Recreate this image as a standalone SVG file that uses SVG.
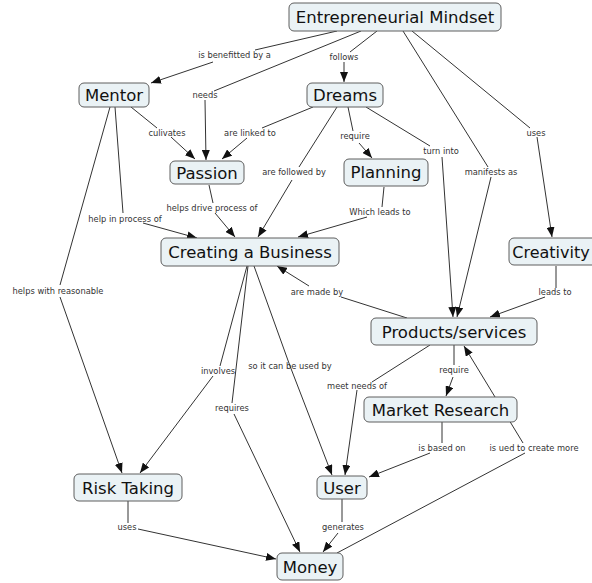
<svg xmlns="http://www.w3.org/2000/svg" width="592" height="583" viewBox="0 0 592 583">
<defs>
<marker id="arr" markerUnits="userSpaceOnUse" markerWidth="10" markerHeight="8" refX="10" refY="4" orient="auto">
<path d="M0,0 L10,4 L0,8 z" fill="#111"/>
</marker>
<style>
.c line{stroke:#333;stroke-width:1;fill:none}
.c line.a{marker-end:url(#arr)}
.n rect{fill:#eaf2f5;stroke:#5e5e5e;stroke-width:1}
.n text{font-family:"DejaVu Sans",Verdana,sans-serif;font-size:16.5px;fill:#111;text-anchor:middle}
.l text{font-family:"DejaVu Sans",Verdana,sans-serif;font-size:8.3px;fill:#333;text-anchor:middle}
</style>
</defs>
<rect width="592" height="583" fill="#fff"/>
<g id="connectors" class="c">
<line x1="337" y1="31" x2="255" y2="50"/>
<line x1="361" y1="31" x2="214" y2="91"/>
<line x1="377" y1="31" x2="350" y2="52"/>
<line x1="403" y1="31" x2="488" y2="167"/>
<line x1="412" y1="31" x2="530" y2="128"/>
<line x1="131" y1="107" x2="157" y2="128"/>
<line x1="115" y1="107" x2="123" y2="213"/>
<line x1="110" y1="107" x2="60" y2="285"/>
<line x1="313" y1="107" x2="262" y2="128"/>
<line x1="337" y1="107" x2="299" y2="167"/>
<line x1="348" y1="107" x2="353" y2="131"/>
<line x1="366" y1="107" x2="430" y2="146"/>
<line x1="209" y1="185" x2="213" y2="203"/>
<line x1="384" y1="187" x2="382" y2="207"/>
<line x1="556" y1="266" x2="556" y2="288"/>
<line x1="407" y1="318" x2="341" y2="297"/>
<line x1="430" y1="345" x2="372" y2="382"/>
<line x1="454" y1="345" x2="454" y2="365"/>
<line x1="442" y1="422" x2="442" y2="443"/>
<line x1="247" y1="266" x2="220" y2="366"/>
<line x1="248" y1="266" x2="232" y2="403"/>
<line x1="254" y1="266" x2="290" y2="366"/>
<line x1="128" y1="501" x2="128" y2="523"/>
<line x1="342" y1="499" x2="342" y2="522"/>
<line x1="337" y1="553" x2="525" y2="453"/>
<line class="a" x1="213" y1="62" x2="151" y2="83"/>
<line class="a" x1="205" y1="100" x2="206" y2="160"/>
<line class="a" x1="344" y1="62" x2="344" y2="82"/>
<line class="a" x1="491" y1="177" x2="457" y2="317"/>
<line class="a" x1="537" y1="137" x2="552" y2="237"/>
<line class="a" x1="171" y1="137" x2="195" y2="159"/>
<line class="a" x1="143" y1="223" x2="197" y2="238"/>
<line class="a" x1="60" y1="297" x2="122" y2="473"/>
<line class="a" x1="247" y1="138" x2="222" y2="159"/>
<line class="a" x1="292" y1="180" x2="258" y2="237"/>
<line class="a" x1="359" y1="143" x2="372" y2="158"/>
<line class="a" x1="442" y1="157" x2="453" y2="317"/>
<line class="a" x1="215" y1="213" x2="235" y2="237"/>
<line class="a" x1="367" y1="217" x2="298" y2="237"/>
<line class="a" x1="545" y1="297" x2="490" y2="317"/>
<line class="a" x1="309" y1="286" x2="277" y2="266"/>
<line class="a" x1="357" y1="390" x2="345" y2="475"/>
<line class="a" x1="453" y1="377" x2="446" y2="396"/>
<line class="a" x1="430" y1="453" x2="369" y2="477"/>
<line class="a" x1="213" y1="376" x2="140" y2="473"/>
<line class="a" x1="234" y1="414" x2="300" y2="552"/>
<line class="a" x1="290" y1="366" x2="332" y2="475"/>
<line class="a" x1="138" y1="529" x2="276" y2="559"/>
<line class="a" x1="338" y1="533" x2="323" y2="552"/>
<line class="a" x1="523" y1="443" x2="464" y2="346"/>
</g>
<g class="n">
<g id="entrepreneurial-mindset"><rect x="289" y="3" width="212" height="28" rx="5"/><text x="395" y="23">Entrepreneurial Mindset</text></g>
<g id="mentor"><rect x="79" y="83" width="70" height="24" rx="5"/><text x="114" y="101">Mentor</text></g>
<g id="dreams"><rect x="307" y="83" width="76" height="24" rx="5"/><text x="345" y="101">Dreams</text></g>
<g id="passion"><rect x="170" y="161" width="74" height="23" rx="5"/><text x="207" y="178.5">Passion</text></g>
<g id="planning"><rect x="344" y="159" width="84" height="27" rx="5"/><text x="386" y="178">Planning</text></g>
<g id="creating-a-business"><rect x="161" y="238" width="178" height="28" rx="5"/><text x="250" y="258">Creating a Business</text></g>
<g id="creativity"><rect x="509" y="238" width="95" height="27" rx="5"/><text x="551" y="257.5" style="font-size:16px">Creativity</text></g>
<g id="products-services"><rect x="371" y="318" width="166" height="27" rx="5"/><text x="454" y="337.5">Products/services</text></g>
<g id="market-research"><rect x="364" y="397" width="153" height="25" rx="5"/><text x="440.5" y="415.5">Market Research</text></g>
<g id="user"><rect x="317" y="476" width="50" height="23" rx="5"/><text x="342" y="493.5">User</text></g>
<g id="risk-taking"><rect x="74" y="474" width="108" height="27" rx="5"/><text x="128" y="493.5">Risk Taking</text></g>
<g id="money"><rect x="277" y="553" width="66" height="27" rx="5"/><text x="310" y="572.5">Money</text></g>
</g>
<g id="labels" class="l">
<text x="234.5" y="58">is benefitted by a</text>
<text x="205" y="98">needs</text>
<text x="344" y="60">follows</text>
<text x="167" y="136">culivates</text>
<text x="250" y="136">are linked to</text>
<text x="294" y="175">are followed by</text>
<text x="355" y="139">require</text>
<text x="441" y="154">turn into</text>
<text x="491" y="175">manifests as</text>
<text x="536" y="136">uses</text>
<text x="125" y="222">help in process of</text>
<text x="212" y="211">helps drive process of</text>
<text x="380" y="215">Which leads to</text>
<text x="58" y="294">helps with reasonable</text>
<text x="317" y="295">are made by</text>
<text x="555" y="295">leads to</text>
<text x="218" y="374">involves</text>
<text x="290" y="369">so it can be used by</text>
<text x="232" y="411">requires</text>
<text x="357" y="389">meet needs of</text>
<text x="454" y="373">require</text>
<text x="442" y="451">is based on</text>
<text x="534" y="451">is ued to create more</text>
<text x="127" y="530">uses</text>
<text x="343" y="530">generates</text>
</g>
</svg>
